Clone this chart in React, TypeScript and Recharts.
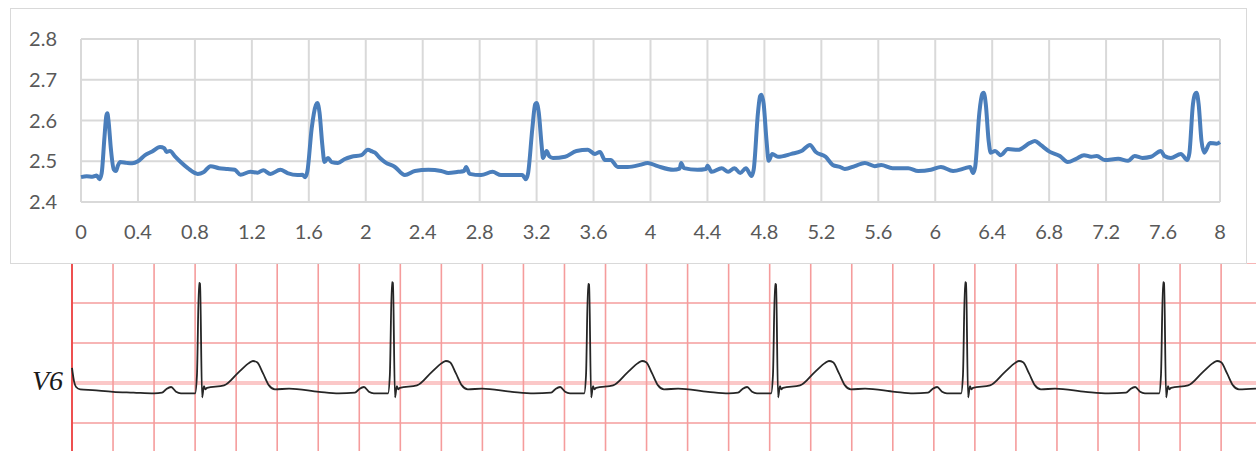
import { LineChart, Line, XAxis, YAxis, CartesianGrid, ReferenceLine } from "recharts";

// sensor trace (seconds, volts)
const sensorTrace: [number, number][] = [
  [0, 2.461], [0.04, 2.463], [0.08, 2.462], [0.11, 2.465], [0.13, 2.456], [0.145, 2.47],
  [0.165, 2.56], [0.178, 2.612], [0.185, 2.618], [0.193, 2.6], [0.21, 2.53], [0.23, 2.48],
  [0.245, 2.476], [0.26, 2.49], [0.275, 2.498], [0.32, 2.496], [0.36, 2.495], [0.4, 2.5],
  [0.45, 2.515], [0.5, 2.524], [0.555, 2.535], [0.585, 2.532], [0.6, 2.523], [0.625, 2.525],
  [0.66, 2.512], [0.7, 2.498], [0.75, 2.483], [0.82, 2.469], [0.86, 2.473], [0.91, 2.488],
  [0.97, 2.483], [1.03, 2.481], [1.08, 2.479], [1.12, 2.467], [1.19, 2.474], [1.24, 2.472],
  [1.28, 2.478], [1.33, 2.469], [1.4, 2.479], [1.45, 2.471], [1.52, 2.466], [1.555, 2.467],
  [1.575, 2.461], [1.59, 2.475], [1.62, 2.58], [1.65, 2.638], [1.66, 2.643], [1.675, 2.62],
  [1.695, 2.54], [1.71, 2.498], [1.735, 2.508], [1.76, 2.498], [1.805, 2.496], [1.85, 2.505],
  [1.9, 2.511], [1.97, 2.515], [2.015, 2.528], [2.045, 2.524], [2.065, 2.521], [2.1, 2.508],
  [2.135, 2.498], [2.205, 2.486], [2.275, 2.466], [2.345, 2.476], [2.44, 2.479], [2.53, 2.476],
  [2.58, 2.471], [2.65, 2.474], [2.69, 2.476], [2.705, 2.486], [2.73, 2.469], [2.81, 2.466],
  [2.89, 2.474], [2.95, 2.466], [3.05, 2.466], [3.1, 2.466], [3.125, 2.456], [3.14, 2.47],
  [3.17, 2.58], [3.19, 2.64], [3.2, 2.643], [3.215, 2.62], [3.235, 2.54], [3.245, 2.508],
  [3.27, 2.525], [3.29, 2.512], [3.315, 2.508], [3.4, 2.511], [3.48, 2.525], [3.56, 2.528],
  [3.61, 2.518], [3.645, 2.523], [3.68, 2.503], [3.72, 2.503], [3.77, 2.486], [3.84, 2.486],
  [3.925, 2.491], [3.98, 2.496], [4.05, 2.488], [4.16, 2.479], [4.205, 2.482], [4.215, 2.496],
  [4.235, 2.483], [4.33, 2.479], [4.39, 2.481], [4.4, 2.489], [4.43, 2.474], [4.5, 2.483],
  [4.545, 2.474], [4.59, 2.483], [4.63, 2.471], [4.67, 2.483], [4.71, 2.464], [4.725, 2.48],
  [4.755, 2.62], [4.77, 2.66], [4.78, 2.663], [4.795, 2.64], [4.815, 2.55], [4.83, 2.501],
  [4.855, 2.518], [4.895, 2.511], [4.99, 2.518], [5.06, 2.525], [5.12, 2.54], [5.16, 2.523],
  [5.23, 2.511], [5.28, 2.491], [5.33, 2.486], [5.365, 2.481], [5.435, 2.488], [5.505, 2.496],
  [5.575, 2.488], [5.62, 2.491], [5.7, 2.483], [5.81, 2.483], [5.88, 2.476], [5.97, 2.479],
  [6.04, 2.486], [6.125, 2.476], [6.21, 2.483], [6.245, 2.486], [6.265, 2.471], [6.28, 2.485],
  [6.31, 2.62], [6.33, 2.665], [6.34, 2.668], [6.355, 2.64], [6.375, 2.55], [6.39, 2.521],
  [6.42, 2.525], [6.46, 2.515], [6.51, 2.53], [6.58, 2.528], [6.665, 2.545], [6.7, 2.55],
  [6.74, 2.54], [6.805, 2.523], [6.875, 2.513], [6.93, 2.498], [6.99, 2.506], [7.045, 2.515],
  [7.095, 2.511], [7.135, 2.513], [7.19, 2.503], [7.285, 2.506], [7.355, 2.501], [7.4, 2.513],
  [7.455, 2.508], [7.515, 2.511], [7.585, 2.525], [7.61, 2.513], [7.655, 2.508], [7.725, 2.518],
  [7.77, 2.503], [7.785, 2.52], [7.81, 2.64], [7.825, 2.665], [7.835, 2.668], [7.85, 2.64],
  [7.87, 2.55], [7.89, 2.521], [7.93, 2.545], [7.975, 2.543], [8, 2.547],
];

const xTicks = [0, 0.4, 0.8, 1.2, 1.6, 2, 2.4, 2.8, 3.2, 3.6, 4, 4.4, 4.8, 5.2, 5.6, 6, 6.4, 6.8, 7.2, 7.6, 8];
const yTicks = [2.4, 2.5, 2.6, 2.7, 2.8];

// V6 strip (seconds, mV), 25 mm/s paper
const ecgTrace: [number, number][] = [
  [0, 0.19], [0.01, 0.02], [0.02, -0.05], [0.04, -0.08], [0.1, -0.09], [0.2, -0.11], [0.3, -0.12], [0.4, -0.13],
  [0.439, -0.12], [0.458, -0.08], [0.483, -0.05], [0.507, -0.11], [0.531, -0.13], [0.6, -0.13],
  [0.609, 0.1], [0.619, 1.25], [0.624, 1.24], [0.634, -0.18], [0.643, -0.04], [0.65, -0.08], [0.658, -0.06],
  [0.741, -0.03], [0.814, 0.14], [0.863, 0.25], [0.882, 0.275], [0.902, 0.26], [0.931, 0.12], [0.96, -0.03],
  [0.989, -0.08], [1.058, -0.07], [1.204, -0.11], [1.3, -0.13],
  [1.379, -0.12], [1.398, -0.08], [1.423, -0.05], [1.447, -0.11], [1.471, -0.13], [1.54, -0.13],
  [1.549, 0.1], [1.559, 1.26], [1.564, 1.25], [1.574, -0.18], [1.583, -0.04], [1.59, -0.08], [1.598, -0.06],
  [1.681, -0.03], [1.754, 0.14], [1.803, 0.25], [1.822, 0.275], [1.842, 0.26], [1.871, 0.12], [1.9, -0.03],
  [1.929, -0.08], [1.998, -0.07], [2.144, -0.11], [2.25, -0.13],
  [2.335, -0.12], [2.354, -0.08], [2.379, -0.05], [2.403, -0.11], [2.427, -0.13], [2.496, -0.13],
  [2.505, 0.1], [2.515, 1.24], [2.52, 1.23], [2.53, -0.18], [2.539, -0.04], [2.546, -0.08], [2.554, -0.06],
  [2.637, -0.03], [2.71, 0.14], [2.759, 0.25], [2.778, 0.275], [2.798, 0.26], [2.827, 0.12], [2.856, -0.03],
  [2.885, -0.08], [2.954, -0.07], [3.1, -0.11], [3.2, -0.13],
  [3.246, -0.12], [3.265, -0.08], [3.29, -0.05], [3.314, -0.11], [3.338, -0.13], [3.407, -0.13],
  [3.416, 0.1], [3.426, 1.24], [3.431, 1.23], [3.441, -0.18], [3.45, -0.04], [3.457, -0.08], [3.465, -0.06],
  [3.548, -0.03], [3.621, 0.14], [3.67, 0.25], [3.689, 0.275], [3.709, 0.26], [3.738, 0.12], [3.767, -0.03],
  [3.796, -0.08], [3.865, -0.07], [4.01, -0.11], [4.1, -0.13],
  [4.172, -0.12], [4.191, -0.08], [4.216, -0.05], [4.24, -0.11], [4.264, -0.13], [4.333, -0.13],
  [4.342, 0.1], [4.352, 1.26], [4.357, 1.25], [4.367, -0.18], [4.376, -0.04], [4.383, -0.08], [4.391, -0.06],
  [4.474, -0.03], [4.547, 0.14], [4.596, 0.25], [4.615, 0.275], [4.635, 0.26], [4.664, 0.12], [4.693, -0.03],
  [4.722, -0.08], [4.791, -0.07], [4.94, -0.11], [5.05, -0.13],
  [5.137, -0.12], [5.156, -0.08], [5.181, -0.05], [5.205, -0.11], [5.229, -0.13], [5.298, -0.13],
  [5.307, 0.1], [5.317, 1.26], [5.322, 1.25], [5.332, -0.18], [5.341, -0.04], [5.348, -0.08], [5.356, -0.06],
  [5.439, -0.03], [5.512, 0.14], [5.561, 0.25], [5.58, 0.275], [5.6, 0.26], [5.629, 0.12], [5.658, -0.03],
  [5.687, -0.08], [5.77, -0.07],
];

const ecgGridSec = [
  0.2, 0.4, 0.6, 0.8, 1, 1.2, 1.4, 1.6, 1.8, 2, 2.2, 2.4, 2.6, 2.8, 3, 3.2, 3.4, 3.6, 3.8, 4,
  4.2, 4.4, 4.6, 4.8, 5, 5.2, 5.4, 5.6,
];
const ecgGridMv = [1.5, 1, 0.5, -0.5];

const topData = sensorTrace.map(([t, v]) => ({ t, v }));
const ecgData = ecgTrace.map(([t, mv]) => ({ t, mv }));

const tickStyle = { fill: "#595959", fontSize: 20, fontFamily: "Lato, 'Open Sans', sans-serif" };

export default function App() {
  return (
    <div style={{ position: "absolute", left: 0, top: 0, width: 1256, height: 451, overflow: "hidden", background: "#fff" }}>
      {/* ECG paper strip */}
      <div style={{ position: "absolute", left: 70, top: 263 }}>
        <LineChart width={1186} height={190} data={ecgData} margin={{ top: 0, right: 0, bottom: 2, left: 2 }}>
          <XAxis dataKey="t" type="number" domain={[0, 5.77]} hide />
          <YAxis type="number" domain={[-0.85, 1.5]} hide />
          <ReferenceLine y={0} stroke="#fbc8c8" strokeWidth={4} />
          {ecgGridMv.map((mv) => (
            <ReferenceLine key={"h" + mv} y={mv} stroke="#f59c9c" strokeWidth={1.6} />
          ))}
          {ecgGridSec.map((s) => (
            <ReferenceLine key={"v" + s} x={s} stroke="#f59c9c" strokeWidth={1.6} />
          ))}
          <ReferenceLine x={0} stroke="#ee5050" strokeWidth={2} />
          <Line
            type="monotone"
            dataKey="mv"
            stroke="#262626"
            strokeWidth={1.8}
            dot={false}
            isAnimationActive={false}
          />
        </LineChart>
      </div>
      <div
        style={{
          position: "absolute",
          left: 32,
          top: 365,
          fontFamily: "'Liberation Serif', 'DejaVu Serif', serif",
          fontStyle: "italic",
          fontSize: 28,
          color: "#1a1a1a",
          lineHeight: "32px",
        }}
      >
        V6
      </div>

      {/* Excel chart */}
      <div
        style={{
          position: "absolute",
          left: 10,
          top: 8,
          width: 1235,
          height: 254,
          border: "1px solid #d9d9d9",
          background: "#fff",
        }}
      >
        <LineChart width={1235} height={254} data={topData} margin={{ top: 30, right: 26, bottom: 30, left: 0 }}>
          <CartesianGrid stroke="#d9d9d9" strokeWidth={2} />
          <XAxis
            dataKey="t"
            type="number"
            domain={[0, 8]}
            ticks={xTicks}
            interval={0}
            tickFormatter={(v) => String(v)}
            axisLine={false}
            tickLine={false}
            tickSize={0}
            tickMargin={23}
            height={31}
            tick={tickStyle}
          />
          <YAxis
            type="number"
            domain={[2.4, 2.8]}
            ticks={yTicks}
            interval={0}
            tickFormatter={(v) => v.toFixed(1)}
            axisLine={false}
            tickLine={false}
            tickSize={0}
            tickMargin={24}
            width={70}
            tick={tickStyle}
          />
          <Line
            type="monotone"
            dataKey="v"
            stroke="#4a7ebb"
            strokeWidth={4}
            dot={false}
            isAnimationActive={false}
          />
        </LineChart>
      </div>
    </div>
  );
}
